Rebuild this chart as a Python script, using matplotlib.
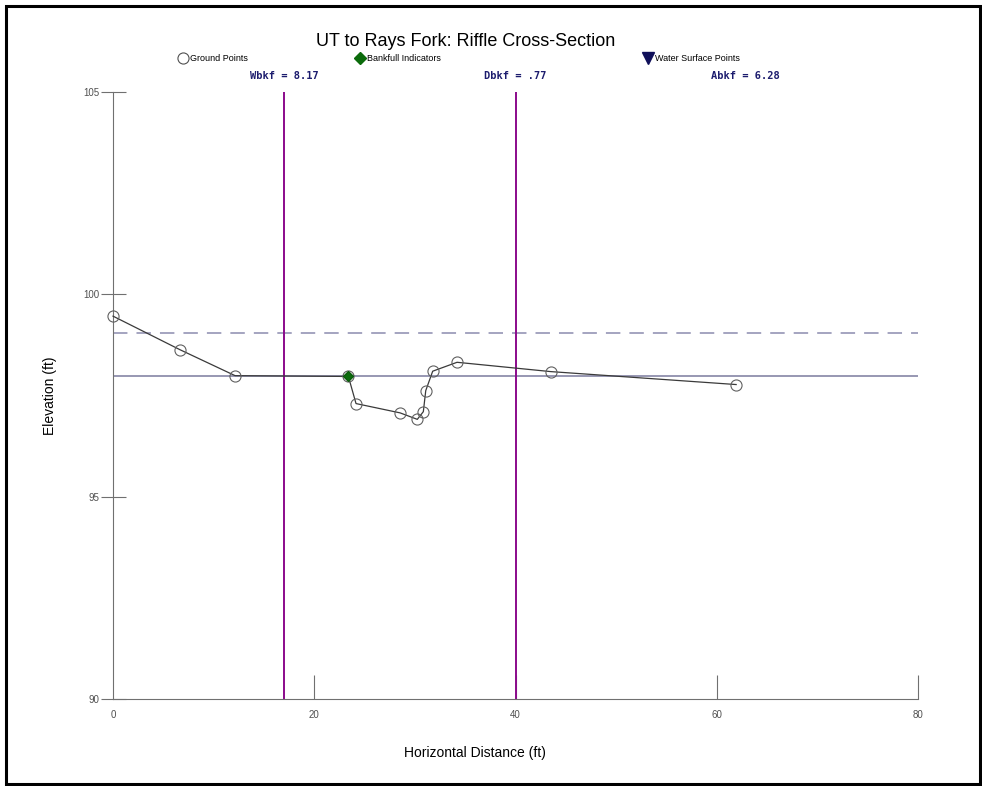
import matplotlib
matplotlib.use("Agg")
import matplotlib.pyplot as plt
from matplotlib.lines import Line2D
from matplotlib.patches import Rectangle

plt.rcParams['font.family'] = ['Liberation Sans', 'DejaVu Sans']

# ground survey points
station = [0.0, 6.66, 12.13, 23.39, 24.15, 28.53, 30.24, 30.84, 31.08, 31.77, 34.19, 43.5, 61.93]
elev = [99.46, 98.63, 97.99, 97.97, 97.30, 97.07, 96.91, 97.10, 97.62, 98.10, 98.32, 98.09, 97.77]
# bankfull indicator
bkf_x = [23.39]
bkf_y = [97.97]
bkf_elev = 97.97
flood_elev = 99.05
# channel width limits
wbkf_lines = [17.0, 40.05]
stats_labels = ['Wbkf = 8.17', 'Dbkf = .77', 'Abkf = 6.28']
stats_x = [17.0, 40.0, 62.8]
xticks = [0, 20, 40, 60, 80]
yticks = [90, 95, 100, 105]

fig = plt.figure(figsize=(9.82, 7.86), dpi=100)
ax = fig.add_axes([0.1151, 0.1107, 0.8197, 0.7723])

ax.axhline(flood_elev, color='#9d9dbb', lw=1.3, dashes=(8, 5))
ax.axhline(bkf_elev, color='#8585a5', lw=1.2)
for xv in wbkf_lines:
    ax.axvline(xv, color='#8b0a8b', lw=1.4)

ax.plot(station, elev, color='#3a3a3a', lw=0.9, marker='o', ms=8,
        mfc='none', mec='#606060', mew=0.8, zorder=3, clip_on=False)
ax.plot(bkf_x, bkf_y, ls='none', marker='D', ms=5.5, color='#0b6b0b',
        mec='#0b5b0b', zorder=4)

ax.set_xlim(0, 80)
ax.set_ylim(90, 105)
ax.set_xticks(xticks)
ax.set_yticks(yticks)
for s in ['top', 'right']:
    ax.spines[s].set_visible(False)
for s in ['left', 'bottom']:
    ax.spines[s].set_color('#707070')
ax.tick_params(axis='x', direction='in', length=17, color='#707070',
               labelsize=7, labelcolor='#505050', pad=8)
ax.tick_params(axis='y', direction='inout', length=18, color='#707070',
               labelsize=7, labelcolor='#505050', pad=1)
ax.xaxis.get_major_ticks()[0].tick1line.set_visible(False)

ax.set_xlabel('Horizontal Distance (ft)', fontsize=10)
ax.set_ylabel('Elevation (ft)', fontsize=10)
ax.xaxis.set_label_coords(0.45, -0.078)
ax.yaxis.set_label_coords(-0.07, 0.5)

for lab, xv in zip(stats_labels, stats_x):
    ax.text(xv, 1.018, lab, transform=ax.get_xaxis_transform(), ha='center',
            va='bottom', fontsize=7.5, fontweight='bold', color='#1c1c6e',
            family='DejaVu Sans Mono')

fig.text(0.474, 0.947, 'UT to Rays Fork: Riffle Cross-Section', ha='center',
         va='center', fontsize=13)

legend_items = [
    (Line2D([], [], ls='none', marker='o', ms=8, mfc='white', mec='#505050', mew=0.8),
     'Ground Points', 0.182),
    (Line2D([], [], ls='none', marker='D', ms=6, color='#0b6b0b'),
     'Bankfull Indicators', 0.362),
    (Line2D([], [], ls='none', marker='v', ms=8, color='#10105a'),
     'Water Surface Points', 0.655),
]
for h, lab, xpos in legend_items:
    fig.legend([h], [lab], loc='center left', bbox_to_anchor=(xpos, 0.926),
               frameon=False, fontsize=6.5, handletextpad=0.3,
               handlelength=1.0, borderpad=0, borderaxespad=0)

fig.patches.append(Rectangle((0.006, 0.003), 0.992, 0.99, transform=fig.transFigure,
                             fill=False, ec='black', lw=2.2))

fig.savefig('out.png', dpi=100)
